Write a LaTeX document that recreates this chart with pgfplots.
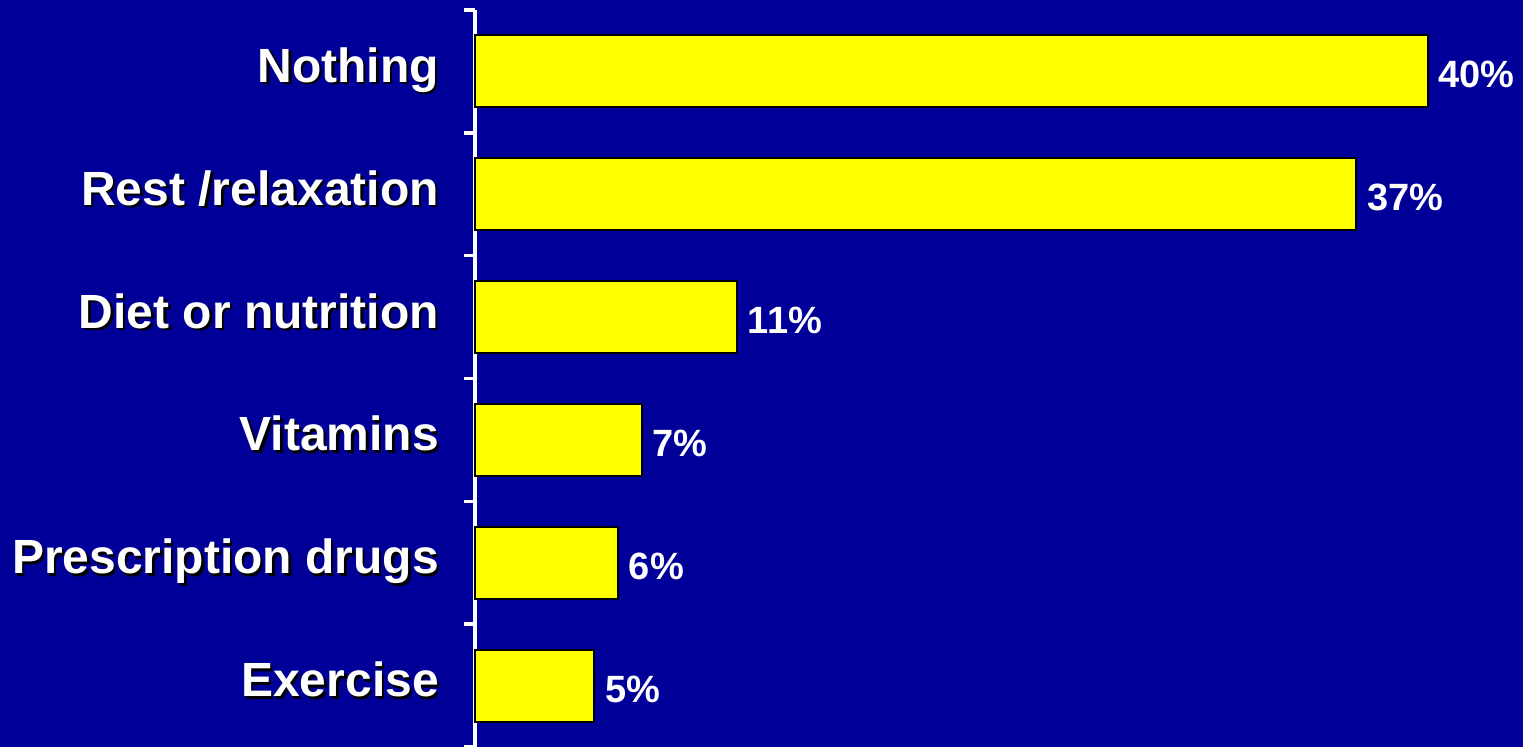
\documentclass[border=0pt]{standalone}
\usepackage{pgfplots}
\pgfplotsset{compat=1.18}
\usepackage{fontspec}
\setmainfont{Liberation Sans}
\definecolor{bg}{RGB}{0,0,153}
\definecolor{ylw}{RGB}{255,255,0}
\newcommand\sh[1]{\rlap{\kern2.5pt\raisebox{-2.5pt}{\color{black}#1}}{\color{white}#1}}
\begin{document}
\begin{tikzpicture}
\path[use as bounding box, fill=bg] (0,0) rectangle (1523pt,747pt);
\begin{axis}[
  at={(475pt,0pt)}, anchor=south west,
  scale only axis, width=1048pt, height=737pt,
  xmin=0, xmax=44, ymin=-0.5, ymax=5.5, y dir=reverse,
  clip=false,
  hide x axis,
  axis y line*=left,
  axis line style={-, white, line width=3.5pt},
  ytick={0,1,2,3,4,5},
  yticklabels={\sh{Nothing}, \sh{Rest /relaxation}, \sh{Diet or nutrition}, \sh{Vitamins}, \sh{Prescription drugs}, \sh{Exercise}},
  yticklabel style={anchor=base east, inner sep=0pt, xshift=-36pt, yshift=-11pt, font=\fontsize{48}{56}\selectfont\bfseries},
  major tick length=0pt,
  minor ytick={-0.5,0.5,...,5.5},
  minor tick length=11pt,
  tick align=outside,
  every minor tick/.append style={white, line width=3.5pt},
  minor tick style={white, line width=3.5pt},
  xbar, bar width=72pt,
  point meta=x,
  /pgf/number format/assume math mode=true,
  nodes near coords={\pgfmathprintnumber{\pgfplotspointmeta}\%},
  nodes near coords style={anchor=base west, inner sep=0pt, xshift=10pt, yshift=-16.5pt, white, font=\fontsize{38}{45}\selectfont\bfseries},
]
\addplot[fill=ylw, draw=black, line width=2pt] coordinates {(40,0) (37,1) (11,2) (7,3) (6,4) (5,5)};
\end{axis}
\end{tikzpicture}
\end{document}
